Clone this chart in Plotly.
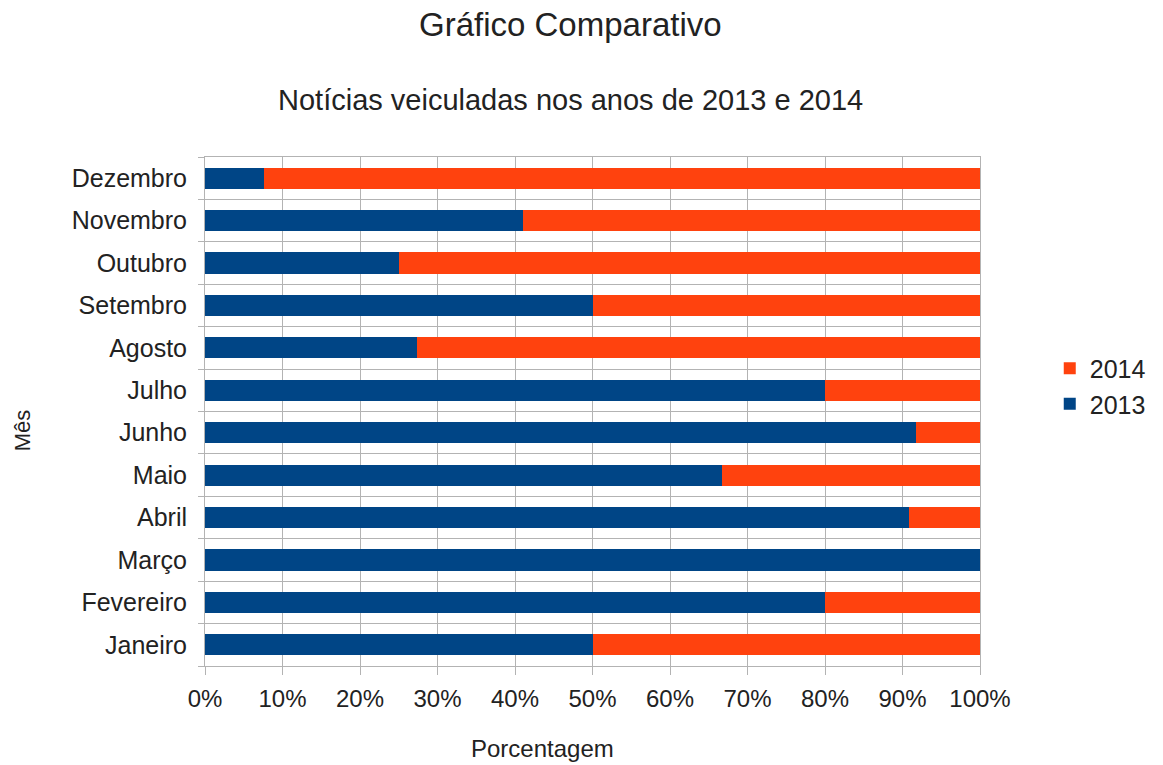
import plotly.graph_objects as go

months = ["Janeiro", "Fevereiro", "Março", "Abril", "Maio", "Junho",
          "Julho", "Agosto", "Setembro", "Outubro", "Novembro", "Dezembro"]
pct_2013 = [50.0, 80.0, 100.0, 90.9, 66.7, 91.7, 80.0, 27.3, 50.0, 25.0, 41.0, 7.6]
pct_2014 = [50.0, 20.0, 0.0, 9.1, 33.3, 8.3, 20.0, 72.7, 50.0, 75.0, 59.0, 92.4]
x_ticks = [0, 10, 20, 30, 40, 50, 60, 70, 80, 90, 100]
x_tick_labels = ["0%", "10%", "20%", "30%", "40%", "50%", "60%", "70%", "80%", "90%", "100%"]

FONT = "Liberation Sans, Arial, sans-serif"
TXT = "#222222"
fig = go.Figure()
fig.add_trace(go.Bar(y=months, x=pct_2013, name="2013", orientation="h",
                     marker=dict(color="#004586", line=dict(width=0))))
fig.add_trace(go.Bar(y=months, x=pct_2014, name="2014", orientation="h",
                     marker=dict(color="#ff420e", line=dict(width=0))))

fig.update_layout(
    width=1163, height=765,
    barmode="stack", bargap=0.5,
    paper_bgcolor="white", plot_bgcolor="white",
    margin=dict(l=205, r=181, t=157, b=99),
    font=dict(family=FONT, color=TXT, size=24),
    annotations=[
        dict(text="Gráfico Comparativo", xref="paper", yref="paper",
             x=0.471, y=1, yshift=133, xanchor="center", yanchor="middle",
             showarrow=False, font=dict(size=33, family=FONT, color=TXT)),
        dict(text="Notícias veiculadas nos anos de 2013 e 2014", xref="paper", yref="paper",
             x=0.471, y=1, yshift=57, xanchor="center", yanchor="middle",
             showarrow=False, font=dict(size=29, family=FONT, color=TXT)),
        dict(text="Porcentagem", xref="paper", yref="paper",
             x=0.435, y=0, yshift=-82, xanchor="center", yanchor="middle",
             showarrow=False, font=dict(size=24, family=FONT, color=TXT)),
        dict(text="Mês", xref="paper", yref="paper", textangle=-90,
             x=0, xshift=-183, y=0.463, xanchor="center", yanchor="middle",
             showarrow=False, font=dict(size=22, family=FONT, color=TXT)),
    ],
    legend=dict(x=1.090, y=0.55, xanchor="left", yanchor="middle",
                traceorder="reversed", font=dict(size=25, family=FONT, color=TXT),
                itemwidth=30, tracegroupgap=0),
    xaxis=dict(range=[0, 100], tickmode="array", tickvals=x_ticks, ticktext=x_tick_labels,
               showgrid=True, gridcolor="#b3b3b3", gridwidth=1,
               showline=True, linecolor="#b3b3b3", mirror=True,
               ticks="outside", ticklen=8, tickcolor="#b3b3b3",
               ticklabelstandoff=3,
               zeroline=False, tickfont=dict(size=24)),
    yaxis=dict(type="category", categoryorder="array", categoryarray=months,
               tickson="boundaries", showgrid=True, gridcolor="#b3b3b3",
               showline=True, linecolor="#b3b3b3", mirror=True,
               ticks="outside", ticklen=6, tickcolor="#b3b3b3",
               ticklabelstandoff=12,
               tickfont=dict(size=25)),
)

fig.write_html("out.html")
